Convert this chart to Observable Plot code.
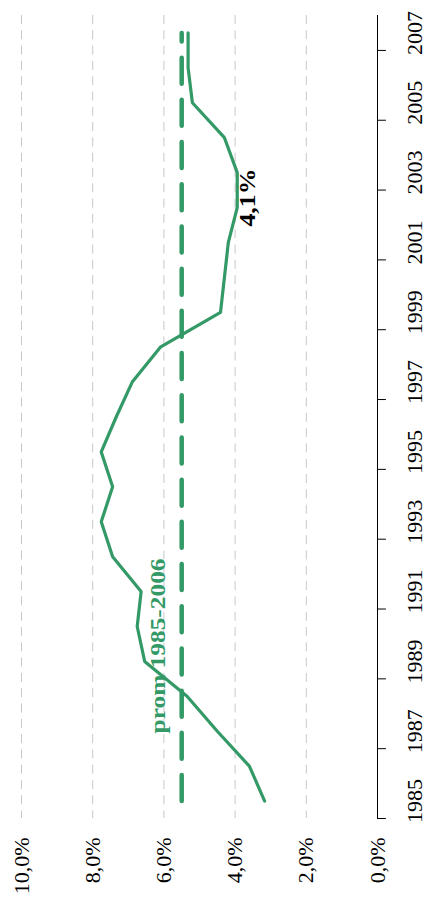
<!DOCTYPE html>
<html>
<head>
<meta charset="utf-8">
<script src="https://cdn.jsdelivr.net/npm/d3@7"></script>
<script src="https://cdn.jsdelivr.net/npm/@observablehq/plot@0.6"></script>
<style>
  html, body { margin: 0; padding: 0; background: #fff; }
  #chart svg { display: block; background: #fff; }
</style>
</head>
<body>
<div id="chart"></div>
<script>
// ---- data ----
const years = [1985, 1986, 1987, 1988, 1989, 1990, 1991, 1992, 1993, 1994, 1995, 1996,
               1997, 1998, 1999, 2000, 2001, 2002, 2003, 2004, 2005, 2006, 2007];
const rates = [3.17, 3.60, 4.50, 5.35, 6.54, 6.75, 6.64, 7.44, 7.76, 7.44, 7.76, 7.34,
               6.89, 6.10, 4.41, 4.30, 4.19, 3.94, 3.94, 4.30, 5.20, 5.32, 5.32];
const avgValue = 5.5;
const avgFrom = 1985;
const avgTo = 2007;
const avgLabel = "prom 1985-2006";
const minLabel = "4,1%";
const minValue = 4.1;
const minYear = 2002;
const pctTicks = [0, 2, 4, 6, 8, 10];
const pctLabels = ["0,0%", "2,0%", "4,0%", "6,0%", "8,0%", "10,0%"];
const yearLabels = years.filter(y => y % 2 === 1);

// ---- derived tables ----
const series = years.map((y, i) => ({year: y, value: rates[i]}));
const avgLine = [{year: avgFrom, value: avgValue}, {year: avgTo, value: avgValue}];
const yearTickBounds = yearLabels.map(y => y - 0.5);

const green = "#339966";
const serif = "'Liberation Serif', 'Times New Roman', serif";

const chart = Plot.plot({
  width: 428,
  height: 910,
  marginLeft: 21,
  marginRight: 51,
  marginTop: 15,
  marginBottom: 92,
  x: {domain: [0, 10], reverse: true, axis: null},
  y: {domain: [years[0] - 0.5, years[years.length - 1] + 0.5], axis: null},
  marks: [
    // dashed gridlines
    Plot.ruleX(pctTicks.filter(d => d > 0), {stroke: "#c8c8c8", strokeWidth: 1, strokeDasharray: "9,6.3"}),
    // category axis line
    Plot.ruleX([0], {stroke: "#000", strokeWidth: 1}),
    // category tick marks
    Plot.ruleY(yearTickBounds, {x1: 0, x2: -0.25, stroke: "#000", strokeWidth: 1}),
    // value tick labels
    Plot.text(pctTicks, {
      x: d => d, frameAnchor: "bottom", dy: 19, rotate: -90,
      text: (d, i) => pctLabels[i],
      textAnchor: "end", lineAnchor: "middle",
      fontSize: 22, fontFamily: serif, fill: "#000"
    }),
    // year labels
    Plot.text(yearLabels, {
      y: d => d, frameAnchor: "right", dx: 37, rotate: -90,
      text: d => String(d),
      textAnchor: "middle", lineAnchor: "middle",
      fontSize: 22, fontFamily: serif, fill: "#000"
    }),
    // average dashed line
    Plot.line(avgLine, {x: "value", y: "year", stroke: green, strokeWidth: 4.5, strokeDasharray: "26,16.2"}),
    // main series
    Plot.line(series, {x: "value", y: "year", stroke: green, strokeWidth: 3.2, strokeLinejoin: "miter"}),
    // labels
    Plot.text([minLabel], {
      x: () => minValue, y: () => minYear, text: d => d,
      dx: 16, dy: -10, rotate: -90, textAnchor: "middle", lineAnchor: "middle",
      fontSize: 23, fontWeight: "bold", fontFamily: serif, fill: "#000"
    }),
    Plot.text([avgLabel], {
      x: () => avgValue, y: () => 1989.5, text: d => d,
      dx: -23.5, dy: 2, rotate: -90, textAnchor: "middle", lineAnchor: "middle",
      fontSize: 22, fontWeight: "bold", fontFamily: serif, fill: green
    })
  ]
});
// stretch the two annotation labels to the lengths seen in the reference
d3.select(chart).selectAll("text").each(function() {
  const t = this.textContent;
  if (t === avgLabel) d3.select(this).attr("textLength", 175).attr("lengthAdjust", "spacingAndGlyphs");
  if (t === minLabel) d3.select(this).attr("textLength", 58).attr("lengthAdjust", "spacingAndGlyphs");
});
document.getElementById("chart").appendChild(chart);
</script>
</body>
</html>
